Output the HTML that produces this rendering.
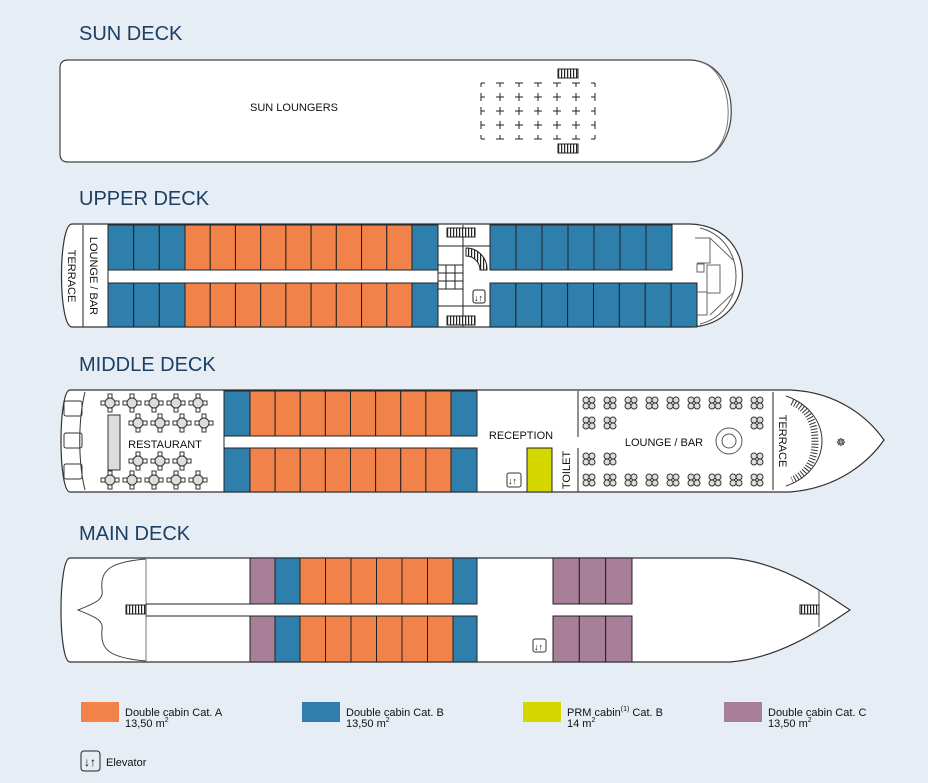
<!DOCTYPE html>
<html><head><meta charset="utf-8"><style>
html,body{margin:0;padding:0;background:#e6edf4;}
svg{display:block;font-family:"Liberation Sans",sans-serif;}
.h{font-size:20px;fill:#1c3f63;}
.t{font-size:11px;fill:#111;}
</style></head><body>
<svg id="s" width="928" height="783" viewBox="0 0 928 783" xmlns="http://www.w3.org/2000/svg">
<defs>
<pattern id="st" width="3" height="4" patternUnits="userSpaceOnUse"><rect width="3" height="4" fill="#fff"/><rect width="1.2" height="4" fill="#222"/></pattern>
</defs>
<rect width="928" height="783" fill="#e6edf4"/>
<text class="h" x="79" y="40">SUN DECK</text>
<text class="h" x="79" y="205">UPPER DECK</text>
<text class="h" x="79" y="371">MIDDLE DECK</text>
<text class="h" x="79" y="540">MAIN DECK</text>

<!-- SUN DECK -->
<path d="M68 60 H690 C745 62 745 160 690 162 H68 Q60 162 60 154 V68 Q60 60 68 60 Z" fill="#fff" stroke="#444" stroke-width="1.2"/>
<path d="M700 62 C735 70 740 150 700 160" fill="none" stroke="#777"/>
<text class="t" x="294" y="111" text-anchor="middle">SUN LOUNGERS</text>
<g id="loungers" stroke="#222" stroke-width="1"></g>
<rect x="558" y="69" width="20" height="9" fill="url(#st)" stroke="#222"/>
<rect x="558" y="144" width="20" height="9" fill="url(#st)" stroke="#222"/>

<!-- UPPER DECK -->
<path d="M72 224 H690 C760 226 760 325 690 327 H72 C58 327 58 224 72 224 Z" fill="#fff" stroke="#333" stroke-width="1.2"/>
<path d="M700 228 C748 240 748 312 700 324" fill="none" stroke="#555"/>
<line x1="83" y1="225" x2="83" y2="327" stroke="#222"/>
<line x1="108" y1="225" x2="108" y2="327" stroke="#222"/>
<text class="t" transform="translate(90,276) rotate(90)" text-anchor="middle">LOUNGE / BAR</text>
<text class="t" transform="translate(68,276) rotate(90)" text-anchor="middle">TERRACE</text>
<g id="upper"></g>
<g stroke="#222" fill="none">
<line x1="463" y1="225" x2="463" y2="327"/>
<line x1="438" y1="246" x2="490" y2="246"/>
<line x1="438" y1="306" x2="490" y2="306"/>
<rect x="438" y="265" width="25" height="24"/>
<line x1="446" y1="265" x2="446" y2="289"/><line x1="455" y1="265" x2="455" y2="289"/>
<line x1="438" y1="273" x2="463" y2="273"/><line x1="438" y1="281" x2="463" y2="281"/>
<rect x="473" y="290" width="12" height="13" rx="2"/>
</g>
<path d="M466 248 A21 21 0 0 1 487 270 H480 A14 14 0 0 0 466 256 Z" fill="url(#st)" stroke="#222"/>
<text x="474" y="301" font-size="9">↓↑</text>
<rect x="447" y="228" width="28" height="9" fill="url(#st)" stroke="#222"/>
<rect x="447" y="316" width="28" height="9" fill="url(#st)" stroke="#222"/>
<g stroke="#666" fill="none">
<path d="M695 238 H710 V263 H697"/><path d="M710 238 L733 260 M733 293 L710 315"/>
<rect x="697" y="264" width="7" height="8"/><rect x="707" y="265" width="13" height="28"/>
<path d="M697 292 H707 V315 H697"/>
</g>

<!-- MIDDLE DECK -->
<path d="M70 390 H790 C840 392 870 420 884 440 C870 460 840 488 790 492 H70 C58 492 58 390 70 390 Z" fill="#fff" stroke="#333" stroke-width="1.2"/>
<path d="M85 392 C78 420 78 462 85 490" fill="none" stroke="#333"/>
<g fill="none" stroke="#333"><rect x="64" y="401" width="18" height="15" rx="2"/><rect x="64" y="433" width="18" height="15" rx="2"/><rect x="64" y="464" width="18" height="15" rx="2"/></g>
<line x1="224" y1="391" x2="224" y2="492" stroke="#222"/>
<g id="middle"></g>
<rect x="527" y="448" width="25" height="44" fill="#d4d800" stroke="#222"/>
<line x1="578" y1="391" x2="578" y2="437" stroke="#222"/>
<line x1="578" y1="448" x2="578" y2="492" stroke="#222"/>
<line x1="773" y1="392" x2="773" y2="490" stroke="#222"/>
<line x1="552" y1="448" x2="552" y2="492" stroke="#222"/>
<text class="t" x="521" y="439" text-anchor="middle">RECEPTION</text>
<text class="t" transform="translate(570,470) rotate(-90)" text-anchor="middle">TOILET</text>
<text class="t" x="664" y="446" text-anchor="middle">LOUNGE / BAR</text>
<text class="t" transform="translate(779,441) rotate(90)" text-anchor="middle">TERRACE</text>
<text class="t" x="165" y="448" text-anchor="middle">RESTAURANT</text>
<circle cx="729" cy="441" r="13" fill="none" stroke="#555"/><circle cx="729" cy="441" r="7" fill="none" stroke="#555"/>
<rect x="507" y="473" width="14" height="14" rx="2" fill="none" stroke="#333"/>
<text x="508" y="484" font-size="9">↓↑</text>
<path d="M786 396 C812 405 822 425 822 441 C822 457 812 477 786 486" fill="none" stroke="#333" stroke-width="1"/>
<path d="M792 402 C810 410 815 425 815 441 C815 457 810 472 792 480" fill="none" stroke="#333" stroke-width="7" stroke-dasharray="1 2"/>
<rect x="108" y="415" width="12" height="55" fill="#ddd" stroke="#333"/>
<g id="mtables" fill="#ddd" stroke="#333" stroke-width="1"></g>
<text x="836" y="446" font-size="11" fill="#222">☸</text>

<!-- MAIN DECK -->
<path d="M70 558 H730 C780 562 820 590 850 610 C820 630 780 658 730 662 H70 C58 662 58 558 70 558 Z" fill="#fff" stroke="#333" stroke-width="1.2"/>
<path d="M146 559 C110 562 100 570 102 590 C104 600 95 603 78 610 C95 617 104 620 102 630 C100 650 110 658 146 661" fill="none" stroke="#444"/>
<line x1="146" y1="558" x2="146" y2="662" stroke="#777"/>
<line x1="146" y1="604" x2="477" y2="604" stroke="#222"/>
<line x1="146" y1="616" x2="477" y2="616" stroke="#222"/>
<line x1="819" y1="590" x2="819" y2="627" stroke="#555"/>
<g id="main"></g>
<rect x="533" y="639" width="13" height="13" rx="2" fill="none" stroke="#333"/>
<text x="534" y="650" font-size="9">↓↑</text>
<rect x="126" y="605" width="20" height="9" fill="url(#st)" stroke="#222"/>
<rect x="800" y="605" width="19" height="9" fill="url(#st)" stroke="#222"/>

<!-- LEGEND -->
<rect x="81" y="702" width="38" height="20" fill="#f0824a"/>
<rect x="302" y="702" width="38" height="20" fill="#2e7fab"/>
<rect x="523" y="702" width="38" height="20" fill="#d4d800"/>
<rect x="724" y="702" width="38" height="20" fill="#a87f98"/>
<g class="t" font-size="12">
<text x="125" y="716">Double cabin Cat. A</text><text x="125" y="727">13,50 m<tspan font-size="7" dy="-5">2</tspan></text>
<text x="346" y="716">Double cabin Cat. B</text><text x="346" y="727">13,50 m<tspan font-size="7" dy="-5">2</tspan></text>
<text x="567" y="716">PRM cabin<tspan font-size="7" dy="-5">(1)</tspan><tspan dy="5"> Cat. B</tspan></text><text x="567" y="727">14 m<tspan font-size="7" dy="-5">2</tspan></text>
<text x="768" y="716">Double cabin Cat. C</text><text x="768" y="727">13,50 m<tspan font-size="7" dy="-5">2</tspan></text>
<text x="106" y="766">Elevator</text>
</g>
<rect x="81" y="751" width="19" height="20" rx="3" fill="none" stroke="#222"/>
<text x="84" y="766" font-size="12">↓↑</text>
</svg>
<script>
const NS="http://www.w3.org/2000/svg",O="#f0824a",B="#2e7fab",P="#a87f98";
function R(g,x,y,w,h,f){const r=document.createElementNS(NS,"rect");r.setAttribute("x",x);r.setAttribute("y",y);r.setAttribute("width",w);r.setAttribute("height",h);r.setAttribute("fill",f);r.setAttribute("stroke","#222");r.setAttribute("stroke-width","1");document.getElementById(g).appendChild(r);}
function row(g,x0,x1,n,y,h,f){const w=(x1-x0)/n;for(let i=0;i<n;i++)R(g,x0+i*w,y,w,h,f);}
[[225,45],[283,44]].forEach(([y,h])=>{row("upper",108,185,3,y,h,B);row("upper",185,412,9,y,h,O);row("upper",412,438,1,y,h,B);});
row("upper",490,672,7,225,45,B);row("upper",490,697,8,283,44,B);
[[391,45],[448,44]].forEach(([y,h])=>{row("middle",224,250,1,y,h,B);row("middle",250,451,8,y,h,O);row("middle",451,477,1,y,h,B);});
[[558,46],[616,46]].forEach(([y,h])=>{row("main",250,275,1,y,h,P);row("main",275,300,1,y,h,B);row("main",300,453,6,y,h,O);row("main",453,477,1,y,h,B);row("main",553,632,3,y,h,P);});
let lg=document.getElementById("loungers"),d="";
for(let c=0;c<7;c++)for(let r=0;r<5;r++){const x=481+c*19,y=83+r*14;
 const L=c>0?x-4:x, Rr=c<6?x+4:x, T=r>0?y-4:y, Bt=r<4?y+4:y;
 d+=`M${L} ${y}H${Rr}M${x} ${T}V${Bt}`;}
const p=document.createElementNS(NS,"path");p.setAttribute("d",d);lg.appendChild(p);
const mt=document.getElementById("mtables");
function tab(x,y){const c=document.createElementNS(NS,"circle");c.setAttribute("cx",x);c.setAttribute("cy",y);c.setAttribute("r",5);mt.appendChild(c);
[[0,-7],[0,7],[-7,0],[7,0]].forEach(([a,b])=>{const r=document.createElementNS(NS,"rect");r.setAttribute("x",x+a-2);r.setAttribute("y",y+b-2);r.setAttribute("width",4);r.setAttribute("height",4);r.setAttribute("fill","#fff");mt.appendChild(r);});}
for(let i=0;i<5;i++){tab(110+i*22,403);tab(110+i*22,480);}
for(let i=0;i<4;i++)tab(138+i*22,423);
for(let i=0;i<3;i++)tab(138+i*22,461);
function pod(x,y){for(const [a,b] of [[-3,-3],[3,-3],[-3,3],[3,3]]){const c=document.createElementNS(NS,"circle");c.setAttribute("cx",x+a);c.setAttribute("cy",y+b);c.setAttribute("r",3);mt.appendChild(c);}}
for(let i=0;i<9;i++){pod(589+i*21,403);pod(589+i*21,480);}
pod(589,423);pod(610,423);pod(757,423);pod(589,459);pod(610,459);pod(757,459);
</script>
</body></html>
